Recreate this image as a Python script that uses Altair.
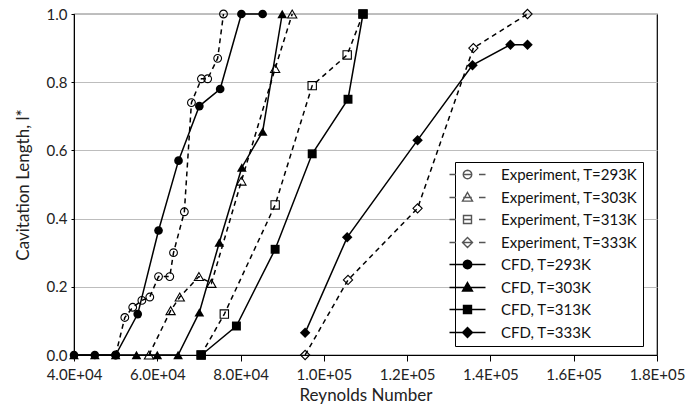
import math
import altair as alt
import pandas as pd

# ---------------- data ----------------
series_names = [
    "Experiment, T=293K", "Experiment, T=303K", "Experiment, T=313K", "Experiment, T=333K",
    "CFD, T=293K", "CFD, T=303K", "CFD, T=313K", "CFD, T=333K",
]

exp293_x = [50000, 52200, 54100, 56300, 58200, 60300, 63000, 63900, 66500, 68200, 70600, 72100, 74500, 75900]
exp293_y = [0.0, 0.11, 0.14, 0.16, 0.17, 0.23, 0.23, 0.30, 0.42, 0.74, 0.81, 0.81, 0.87, 1.0]

exp303_x = [58000, 63200, 65400, 70000, 73000, 80200, 88300, 92400]
exp303_y = [0.0, 0.13, 0.17, 0.23, 0.21, 0.51, 0.84, 1.0]

exp313_x = [70500, 76100, 88300, 97200, 105600, 109400]
exp313_y = [0.0, 0.12, 0.44, 0.79, 0.88, 1.0]

exp333_x = [95500, 105800, 122500, 135900, 148900]
exp333_y = [0.0, 0.22, 0.43, 0.90, 1.0]

cfd293_x = [40000, 45000, 50000, 55300, 60300, 65100, 70100, 75100, 80200, 85300]
cfd293_y = [0.0, 0.0, 0.0, 0.12, 0.365, 0.57, 0.73, 0.78, 1.0, 1.0]

cfd303_x = [40000, 45000, 50000, 55000, 60000, 65000, 70100, 74900, 80300, 85300, 90000]
cfd303_y = [0.0, 0.0, 0.0, 0.0, 0.0, 0.0, 0.125, 0.33, 0.55, 0.655, 1.0]

cfd313_x = [70600, 79000, 88300, 97200, 105800, 109400]
cfd313_y = [0.0, 0.085, 0.31, 0.59, 0.75, 1.0]

cfd333_x = [95500, 105600, 122500, 135700, 144800, 148900]
cfd333_y = [0.065, 0.345, 0.63, 0.85, 0.91, 0.91]

x_ticks = [40000, 60000, 80000, 100000, 120000, 140000, 160000, 180000]
y_ticks = [0.0, 0.2, 0.4, 0.6, 0.8, 1.0]

# ---------------- table ----------------
xs = [exp293_x, exp303_x, exp313_x, exp333_x, cfd293_x, cfd303_x, cfd313_x, cfd333_x]
ys = [exp293_y, exp303_y, exp313_y, exp333_y, cfd293_y, cfd303_y, cfd313_y, cfd333_y]
rows = []
for name, xv, yv in zip(series_names, xs, ys):
    kind = "Experiment" if name.startswith("Experiment") else "CFD"
    for i, (a, b) in enumerate(zip(xv, yv)):
        rows.append({"series": name, "kind": kind, "Re": a, "L": b, "idx": i})
df = pd.DataFrame(rows)

# ---------------- styles ----------------
FONT = "Lato"
vis_shapes = ["circle", "triangle-up", "square", "diamond"] * 2
vis_sizes = [60, 85, 70, 85, 75, 95, 80, 110]

def poly(points):
    return "M" + "L".join(f"{a:.3f},{b:.3f}" for a, b in points) + "Z"

circle_p = poly([(0.85 * math.cos(2 * math.pi * k / 16), 0.85 * math.sin(2 * math.pi * k / 16)) for k in range(16)])
tri_p = "M0,-1.0L1.0,0.72L-1.0,0.72Z"
sq_p = "M-0.8,-0.8L0.8,-0.8L0.8,0.8L-0.8,0.8Z"
dia_p = "M0,-1.0L1.0,0L0,1.0L-1.0,0Z"
dash_line = "M-3.6,0L-2.3,0M2.3,0L3.6,0M-0.85,0L0.85,0"
solid_line = "M-3.6,0L3.6,0"
leg_shapes = [dash_line + m for m in (circle_p, tri_p, sq_p, dia_p)] + \
             [solid_line + m for m in (circle_p, tri_p, sq_p, dia_p)]
leg_fills = ["white"] * 4 + ["black"] * 4
leg_strokes = ["#555555"] * 4 + ["black"] * 4

x_enc = alt.X("Re:Q", title="Reynolds Number",
              scale=alt.Scale(domain=[40000, 180000], nice=False, zero=False),
              axis=alt.Axis(values=x_ticks, grid=False, labelFlush=False,
                            labelExpr="replace(upper(format(datum.value, '.1e')), 'E+', 'E+0')"))
y_enc = alt.Y("L:Q", title="Cavitation Length, l*",
              scale=alt.Scale(domain=[0, 1], nice=False),
              axis=alt.Axis(values=y_ticks, format=".1f", grid=True, labelFlush=False))

base = alt.Chart(df).encode(x=x_enc, y=y_enc)

exp_lines = base.transform_filter("datum.kind == 'Experiment'").mark_line(
    color="black", strokeWidth=1.5, strokeDash=[5, 4]
).encode(detail="series:N", order="idx:Q")

cfd_lines = base.transform_filter("datum.kind == 'CFD'").mark_line(
    color="black", strokeWidth=1.5
).encode(detail="series:N", order="idx:Q")

point_layers = []
for name, shp, sz in zip(series_names, vis_shapes, vis_sizes):
    is_exp = name.startswith("Experiment")
    point_layers.append(
        base.transform_filter(alt.datum.series == name).mark_point(
            shape=shp, size=sz, filled=not is_exp, color="black",
            strokeWidth=1.1, opacity=1,
        )
    )

leg = alt.Legend(title=None, orient="none", legendX=381, legendY=148,
                 symbolSize=100, symbolStrokeWidth=1.4, symbolOpacity=1,
                 labelFont=FONT, labelFontSize=15, labelColor="#111",
                 labelOffset=26, rowPadding=6, padding=5,
                 strokeColor="black", fillColor="white")

legend_layer = base.transform_filter("datum.L > 10").mark_point(
    filled=False, color="black", strokeWidth=1.4, opacity=1
).encode(
    shape=alt.Shape("series:N", scale=alt.Scale(domain=series_names, range=leg_shapes), legend=leg),
    fill=alt.Fill("series:N", scale=alt.Scale(domain=series_names, range=leg_fills), legend=leg),
    stroke=alt.Stroke("series:N", scale=alt.Scale(domain=series_names, range=leg_strokes), legend=leg),
)

chart = alt.layer(exp_lines, cfd_lines, *point_layers, legend_layer).properties(
    width=583, height=341,
    autosize=alt.AutoSizeParams(type="none"),
    padding={"left": 74, "top": 14, "right": 42, "bottom": 55},
).configure_view(
    stroke="black", strokeWidth=1.2
).configure_axis(
    labelFont=FONT, titleFont=FONT, labelFontSize=15, titleFontSize=17,
    labelColor="#222", titleColor="#222", titleFontWeight="normal",
    domainColor="black", tickColor="black", gridColor="#bdbdbd",
).configure_axisX(
    tickSize=6, labelPadding=6, titlePadding=5,
).configure_axisY(
    tickSize=3, labelPadding=4, titlePadding=14,
)

chart.save("out.html", embed_options={"renderer": "svg", "actions": False})
